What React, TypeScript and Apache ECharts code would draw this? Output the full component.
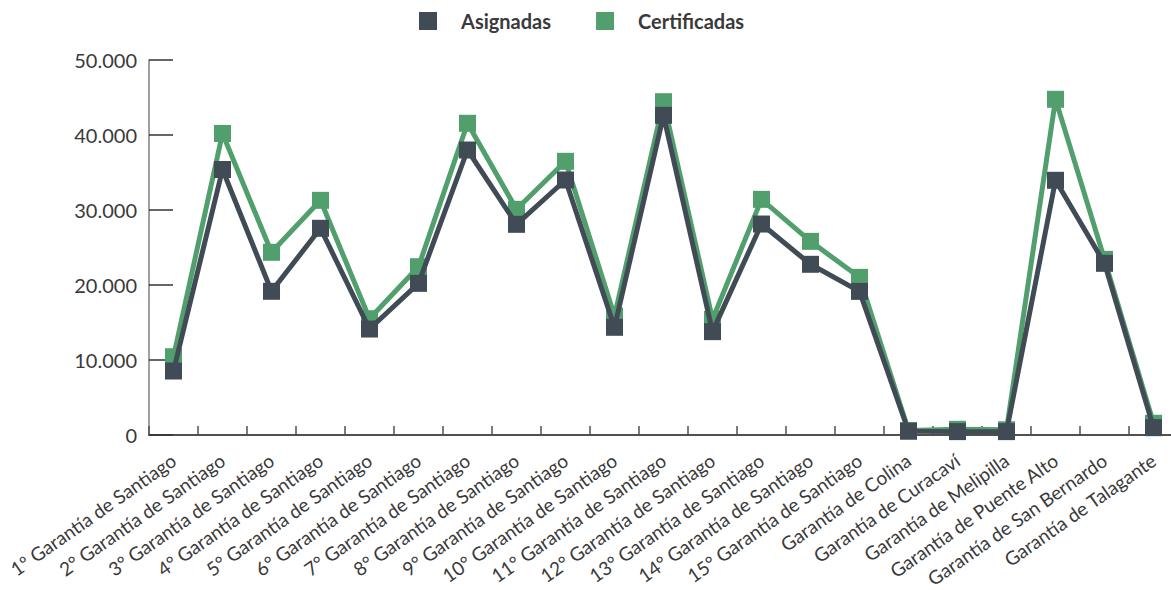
import React, { useEffect, useRef } from "react";
import * as echarts from "echarts";

const categories = [
  "1º Garantía de Santiago",
  "2° Garantía de Santiago",
  "3° Garantía de Santiago",
  "4° Garantía de Santiago",
  "5° Garantía de Santiago",
  "6° Garantía de Santiago",
  "7° Garantía de Santiago",
  "8° Garantía de Santiago",
  "9° Garantía de Santiago",
  "10° Garantía de Santiago",
  "11° Garantía de Santiago",
  "12° Garantía de Santiago",
  "13° Garantía de Santiago",
  "14° Garantía de Santiago",
  "15° Garantía de Santiago",
  "Garantía de Colina",
  "Garantía de Curacaví",
  "Garantía de Melipilla",
  "Garantía de Puente Alto",
  "Garantía de San Bernardo",
  "Garantía de Talagante",
];

const asignadas = [
  8530, 35400, 19160, 27560, 14130, 20220, 38000, 28090, 34000, 14360, 42620,
  13780, 28130, 22760, 19150, 500, 450, 450, 33960, 22890, 980,
];

const certificadas = [
  10440, 40200, 24360, 31290, 15500, 22440, 41560, 30090, 36490, 15870, 44440,
  15420, 31420, 25820, 21020, 600, 760, 700, 44760, 23420, 1560,
];

const yTicks = { min: 0, max: 50000, interval: 10000 };

const FONT = "Lato, 'Open Sans', sans-serif";
const DARK = "#414b55";
const GREEN = "#529f6e";
const TEXT = "#3a3a3a";

function fmt(v: number) {
  return String(v).replace(/\B(?=(\d{3})+(?!\d))/g, ".");
}

export default function App() {
  const ref = useRef<HTMLDivElement>(null);
  useEffect(() => {
    if (!ref.current) return;
    const chart = echarts.init(ref.current, null, { renderer: "svg" });
    chart.setOption({
      animation: false,
      backgroundColor: "#ffffff",
      textStyle: { fontFamily: FONT },
      legend: {
        data: [
          { name: "Asignadas", icon: "rect", itemStyle: { color: DARK } },
          { name: "Certificadas", icon: "rect", itemStyle: { color: GREEN } },
        ],
        left: 414,
        top: 6,
        itemWidth: 18,
        itemHeight: 18,
        itemGap: 45,
        textStyle: {
          fontFamily: FONT,
          fontSize: 20,
          fontWeight: "bold",
          color: TEXT,
          padding: [0, 0, 0, 19],
        },
      },
      grid: {
        left: 149,
        top: 60,
        width: 1029,
        bottom: 155,
        containLabel: false,
        outerBoundsMode: "none",
      },
      xAxis: {
        type: "category",
        data: categories,
        boundaryGap: true,
        axisLine: { show: true, lineStyle: { color: "#505050", width: 2 } },
        axisTick: {
          show: true,
          inside: true,
          length: 9,
          alignWithLabel: false,
          lineStyle: { color: "#505050", width: 1.5 },
        },
        axisLabel: {
          interval: 0,
          rotate: 35,
          margin: 23,
          fontFamily: FONT,
          fontSize: 19,
          color: TEXT,
        },
      },
      yAxis: {
        type: "value",
        min: yTicks.min,
        max: yTicks.max,
        interval: yTicks.interval,
        splitLine: { show: false },
        axisLine: { show: true, lineStyle: { color: "#808080", width: 1.5 } },
        axisTick: {
          show: true,
          inside: true,
          length: 24,
          lineStyle: { color: "#333333", width: 1.5 },
        },
        axisLabel: {
          margin: 12,
          fontFamily: FONT,
          fontSize: 20,
          color: TEXT,
          formatter: (v: number) => fmt(v),
        },
      },
      series: [
        {
          name: "Certificadas",
          type: "line",
          data: certificadas,
          symbol: "rect",
          symbolSize: 17,
          z: 2,
          lineStyle: { color: GREEN, width: 5 },
          itemStyle: { color: GREEN },
        },
        {
          name: "Asignadas",
          type: "line",
          data: asignadas,
          symbol: "rect",
          symbolSize: 17,
          z: 3,
          lineStyle: { color: DARK, width: 5 },
          itemStyle: { color: DARK },
        },
      ],
    });
    return () => chart.dispose();
  }, []);
  return (
    <div
      ref={ref}
      style={{ position: "fixed", left: 0, top: 0, width: 1171, height: 590 }}
    />
  );
}
